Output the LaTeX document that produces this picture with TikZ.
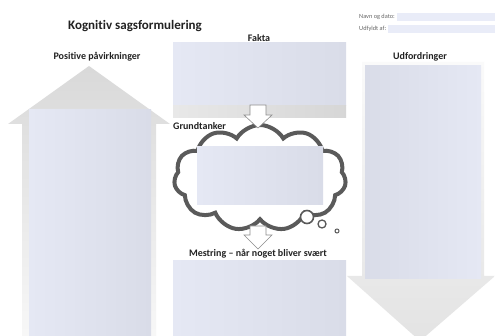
\documentclass[tikz,border=0pt]{standalone}
\usepackage{fontspec}
\setmainfont{Carlito}[Ligatures=NoCommon]
\usetikzlibrary{shapes.symbols}
\definecolor{boxblue}{HTML}{E5E8F4}
\definecolor{boxblueD}{HTML}{D9DCE8}
\definecolor{fieldblue}{HTML}{E9ECF8}
\definecolor{cloudline}{HTML}{5A5A5A}
\definecolor{txt}{HTML}{222222}
\begin{document}
\begin{tikzpicture}[x=1pt,y=-1pt,
  bluebox/.style={left color=boxblue, right color=boxblueD, draw=none},
  blueboxR/.style={left color=boxblueD, right color=boxblue, draw=none},
  lbl/.style={font=\bfseries\fontsize{10}{11}\selectfont, text=txt, inner sep=0pt},
  small/.style={font=\fontsize{6.3}{7}\selectfont, text=black!60, inner sep=0pt, anchor=west},
  smallarrow/.style={draw=black!45, line width=0.6pt, fill=white},
  bubble/.style={draw=cloudline, line width=1.6pt, fill=white}]
\useasboundingbox (0,0) rectangle (495,336);
\fill[white] (0,0) rectangle (495,336);
% left big arrow (up)
\shade[top color=black!15, bottom color=black!3]
  (89,66) -- (170,124) -- (156,124) -- (156,336) -- (22,336) -- (22,124) -- (8,124) -- cycle;
\shade[bluebox] (29,110) rectangle (151,336);
\node[inner sep=0pt, minimum width=122, minimum height=226] (pos) at (90,223) {};
% right big arrow (down)
\shade[top color=black!2, bottom color=black!11]
  (362,62) -- (484,62) -- (484,276) -- (495,276) -- (420,341) -- (347,276) -- (362,276) -- cycle;
\shade[blueboxR] (365,66) rectangle (481,279);
\node[inner sep=0pt, minimum width=116, minimum height=213] (udf) at (423,172) {};
% Fakta box
\shade[bluebox] (173,43) rectangle (346,106);
\shade[left color=black!9, right color=black!16] (173,106) rectangle (346,118);
\node[inner sep=0pt, minimum width=173, minimum height=75] (fakta) at (259.5,80.5) {};
% Mestring box
\shade[bluebox] (173,261) rectangle (346,336);
\node[inner sep=0pt, minimum width=173, minimum height=75] (mestr) at (259.5,298.5) {};
% cloud
\node[cloud, cloud puffs=11, cloud puff arc=120, aspect=1.65, draw=cloudline,
  line width=4pt, fill=white, minimum width=172, minimum height=106] (cloud) at (260,178) {};
\shade[bluebox] (197,147) rectangle (323,205);
\node[bubble, circle, minimum size=13, inner sep=0pt] (b1) at (307,217) {};
\node[bubble, circle, minimum size=8, inner sep=0pt, line width=1.3pt] (b2) at (322,224) {};
\node[bubble, circle, minimum size=4, inner sep=0pt, line width=1pt] (b3) at (337,231) {};
% small block arrows
\draw[smallarrow] (250,105) -- (266,105) -- (266,115) -- (272,115) -- (258,128)
  -- (244,115) -- (250,115) -- cycle;
\draw[smallarrow] (250,226) -- (266,226) -- (266,235) -- (272,235) -- (258,249)
  -- (244,235) -- (250,235) -- cycle;
% header fields
\fill[fieldblue] (397,13) rectangle (495,21);
\fill[fieldblue] (388,25) rectangle (495,33);
\node[small] (navn) at (359,17) {Navn og dato:};
\node[small] (udfyldt) at (359,29) {Udfyldt af:};
% labels
\node[font=\bfseries\fontsize{13}{14}\selectfont, text=txt, inner sep=0pt] (title) at (135,26) {Kognitiv sagsformulering};
\node[lbl] (faktal) at (259,38) {Fakta};
\node[lbl] (posl) at (97,57) {Positive påvirkninger};
\node[lbl] (udfl) at (420,57) {Udfordringer};
\node[lbl, anchor=west] (grundl) at (173,126) {Grundtanker};
\node[lbl] (mestl) at (258,254) {Mestring – når noget bliver svært};
\end{tikzpicture}
\end{document}
